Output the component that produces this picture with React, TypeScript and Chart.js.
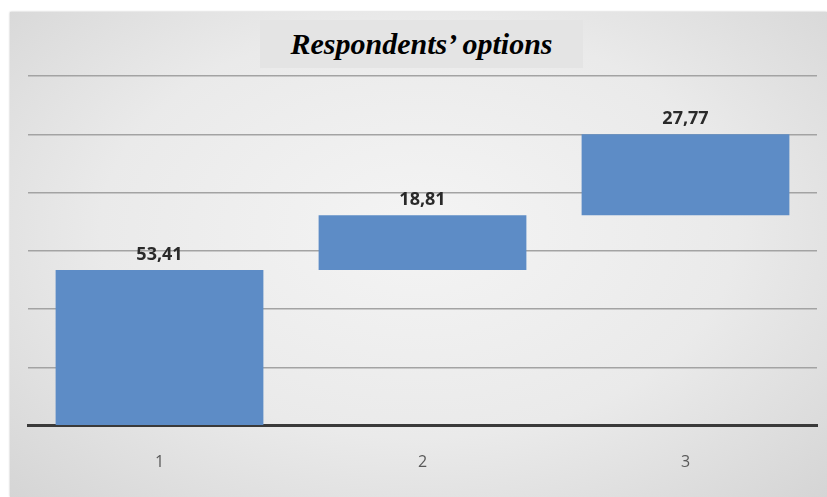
import React, { useEffect, useRef } from "react";
import { Chart, registerables } from "chart.js";

Chart.register(...registerables);

const categories: string[] = ["1", "2", "3"];
const increments: number[] = [53.41, 18.81, 27.77];
const valueLabels: string[] = ["53,41", "18,81", "27,77"];
const titleText = "Respondents\u2019 options";

export default function App() {
  const ref = useRef<HTMLCanvasElement | null>(null);

  useEffect(() => {
    document.body.style.margin = "0";
    const canvas = ref.current;
    if (!canvas) return;
    let run = 0;
    const ranges = increments.map((v) => {
      const start = run;
      run += v;
      return [start, run] as [number, number];
    });

    const labelPlugin = {
      id: "valueLabels",
      afterDatasetsDraw(chart: any) {
        const ctx = chart.ctx;
        const meta = chart.getDatasetMeta(0);
        ctx.save();
        ctx.font = "bold 18px 'Open Sans', 'Liberation Sans', sans-serif";
        ctx.fillStyle = "#2a2a2a";
        ctx.textAlign = "center";
        ctx.textBaseline = "bottom";
        meta.data.forEach((bar: any, i: number) => {
          const top = Math.min(bar.y, bar.base);
          ctx.fillText(valueLabels[i], bar.x, top - 6);
        });
        ctx.restore();
      },
    };

    const chart = new Chart(canvas, {
      type: "bar",
      data: {
        labels: categories,
        datasets: [
          {
            data: ranges as any,
            backgroundColor: "#5d8cc6",
            borderWidth: 0,
            categoryPercentage: 1,
            barPercentage: 0.79,
          },
        ],
      },
      options: {
        animation: false,
        responsive: false,
        maintainAspectRatio: false,
        layout: { padding: { left: 28, right: 10, top: 76, bottom: -2 } },
        plugins: {
          legend: { display: false },
          tooltip: { enabled: false },
          title: { display: false },
        },
        scales: {
          x: {
            grid: { display: false, drawTicks: false },
            border: { display: true, color: "#3a3a3a", width: 3 },
            ticks: {
              color: "#595959",
              font: { size: 16, family: "'Open Sans', 'Liberation Sans', sans-serif" },
              padding: 27,
            },
          },
          y: {
            min: 0,
            max: 120,
            ticks: { display: false, stepSize: 20 },
            grid: { color: "#a3a3a3", lineWidth: 1.5, drawTicks: false },
            border: { display: false },
          },
        },
      },
      plugins: [labelPlugin],
    });
    return () => chart.destroy();
  }, []);

  return (
    <div style={{ position: "relative", width: 827, height: 497, background: "#ffffff", overflow: "hidden" }}>
      <div
        style={{
          position: "absolute",
          left: 10,
          top: 12,
          width: 817,
          height: 485,
          background:
            "radial-gradient(ellipse at 50% 45%, #f4f4f4 0%, #eaeaea 55%, #d5d5d5 100%)",
          boxShadow: "0 0 2px #bbb",
        }}
      />
      <div
        style={{
          position: "absolute",
          left: 260,
          top: 20,
          width: 323,
          height: 48,
          background: "#e4e4e4",
          display: "flex",
          alignItems: "center",
          justifyContent: "center",
          fontFamily: "'Liberation Serif', 'DejaVu Serif', serif",
          fontWeight: "bold",
          fontStyle: "italic",
          fontSize: 30,
          color: "#000",
        }}
      >
        {titleText}
      </div>
      <canvas ref={ref} width={827} height={497} style={{ position: "absolute", left: 0, top: 0 }} />
    </div>
  );
}
